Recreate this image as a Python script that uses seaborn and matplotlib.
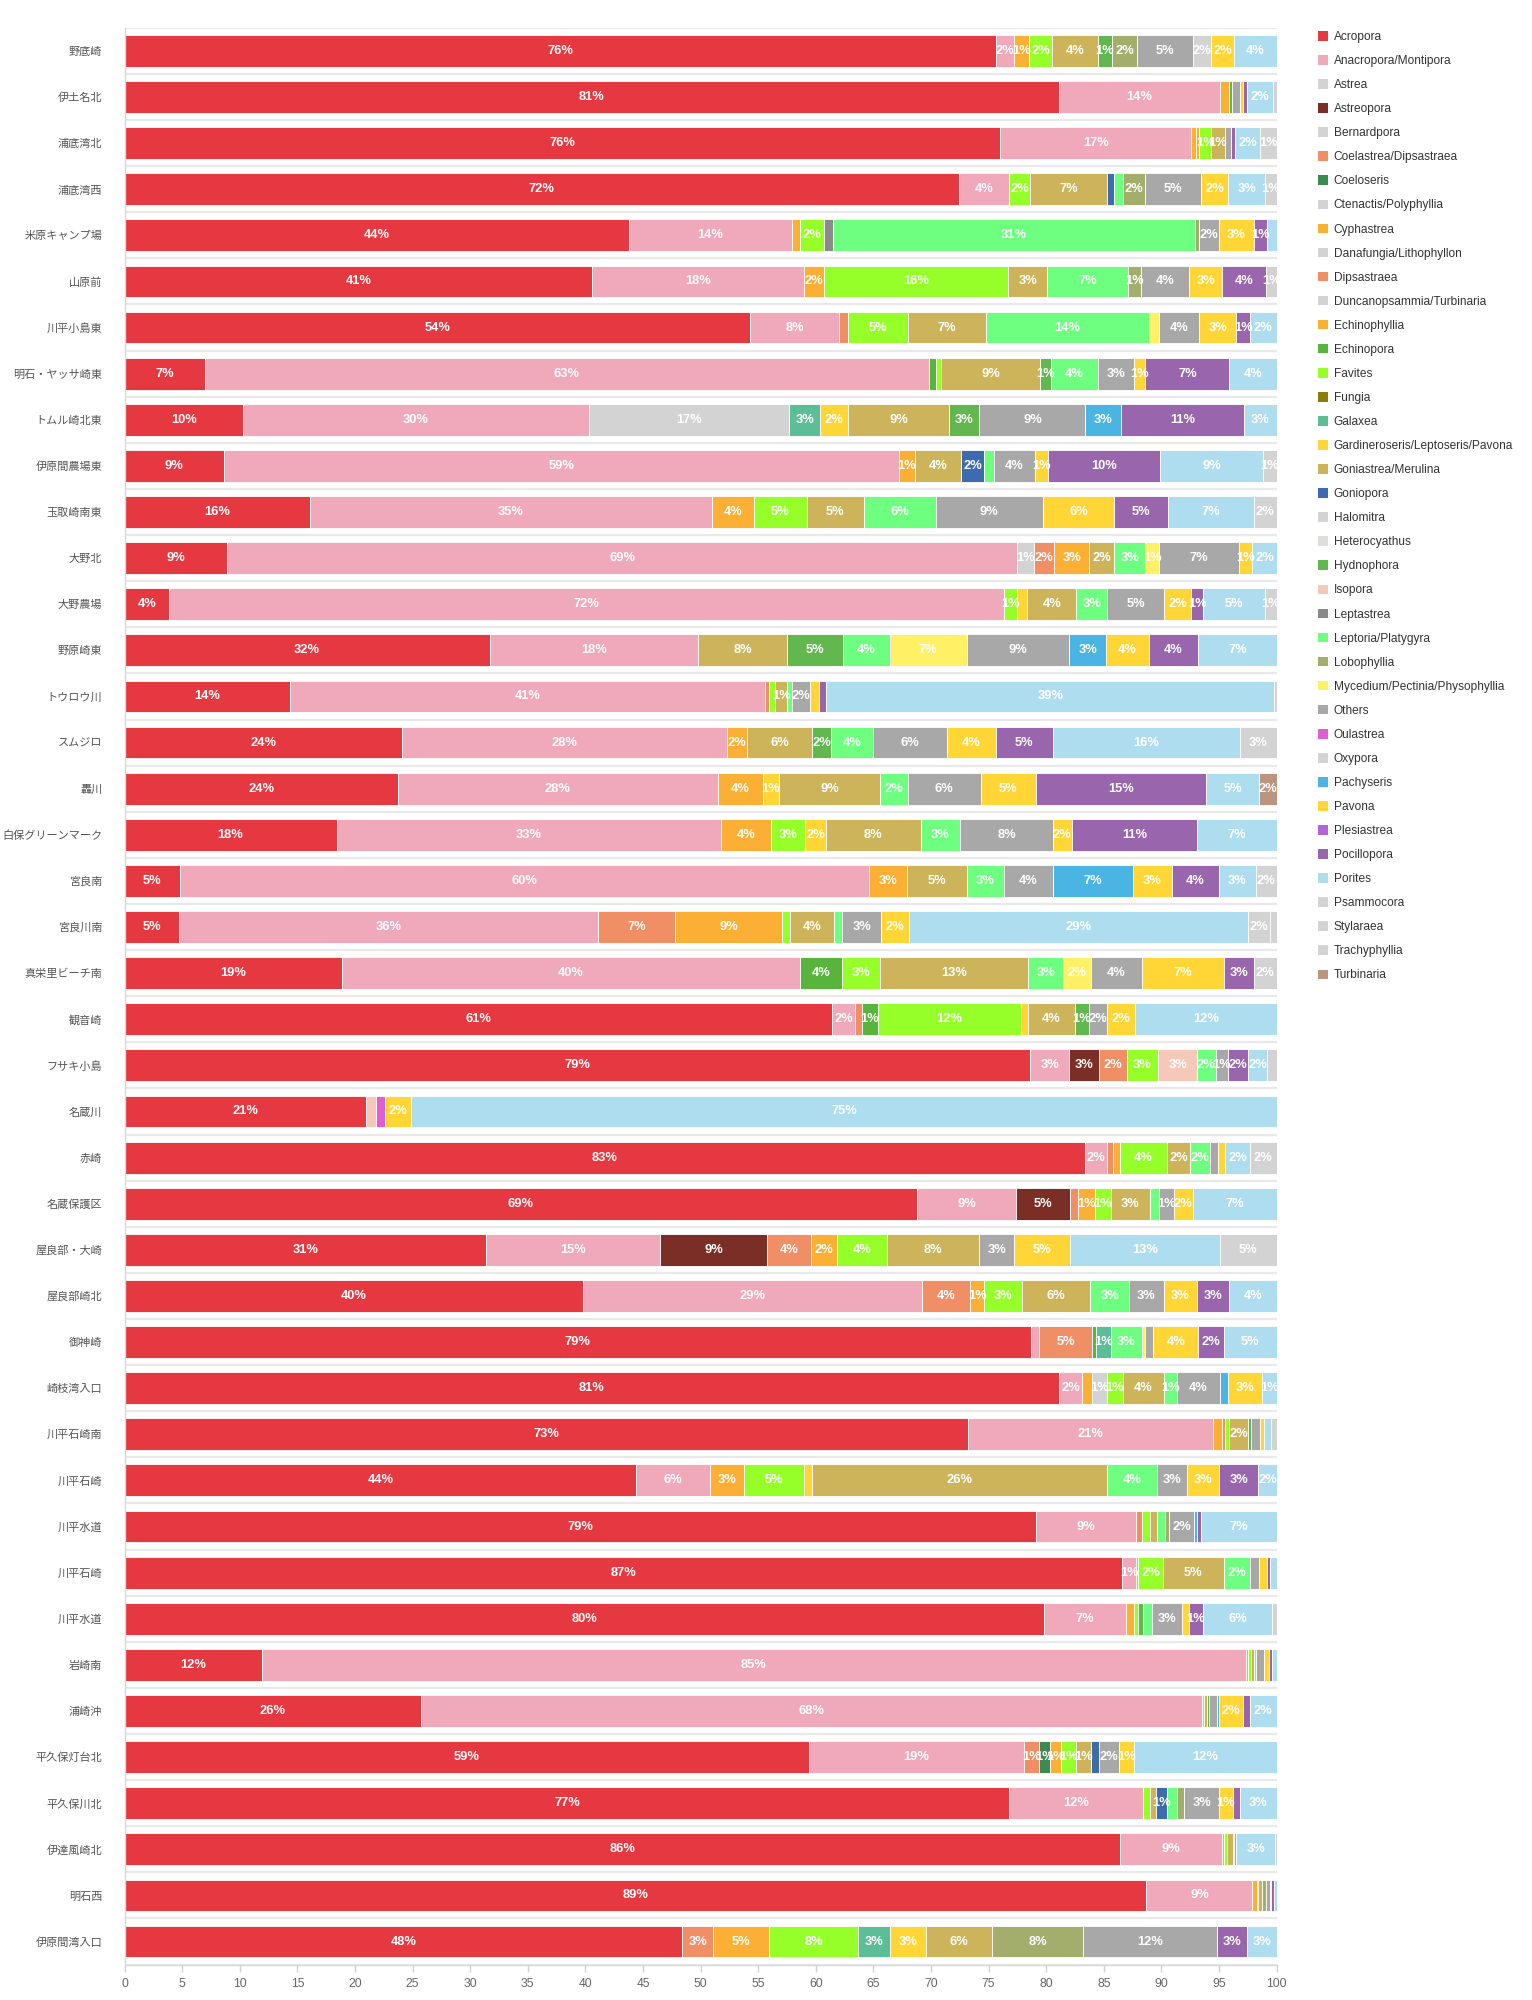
import numpy as np
import pandas as pd
import matplotlib.pyplot as plt
from matplotlib.patches import Patch
import seaborn as sns

# survey sites, top to bottom
sites = [
    "野底崎", "伊土名北", "浦底湾北", "浦底湾西", "米原キャンプ場", "山原前", "川平小島東",
    "明石・ヤッサ崎東", "トムル崎北東", "伊原間農場東", "玉取崎南東", "大野北", "大野農場",
    "野原崎東", "トウロウ川", "スムジロ", "轟川", "白保グリーンマーク", "宮良南", "宮良川南",
    "真栄里ビーチ南", "観音崎", "フサキ小島", "名蔵川", "赤崎", "名蔵保護区", "屋良部・大崎",
    "屋良部崎北", "御神崎", "崎枝湾入口", "川平石崎南", "川平石崎", "川平水道", "川平石崎",
    "川平水道", "岩崎南", "浦崎沖", "平久保灯台北", "平久保川北", "伊達風崎北", "明石西",
    "伊原間湾入口",
]

categories = [
    "Acropora", "Anacropora/Montipora", "Astrea", "Astreopora", "Bernardpora",
    "Coelastrea/Dipsastraea", "Coeloseris", "Ctenactis/Polyphyllia", "Cyphastrea",
    "Danafungia/Lithophyllon", "Dipsastraea", "Duncanopsammia/Turbinaria", "Echinophyllia",
    "Echinopora", "Favites", "Fungia", "Galaxea", "Gardineroseris/Leptoseris/Pavona",
    "Goniastrea/Merulina", "Goniopora", "Halomitra", "Heterocyathus", "Hydnophora", "Isopora",
    "Leptastrea", "Leptoria/Platygyra", "Lobophyllia", "Mycedium/Pectinia/Physophyllia",
    "Others", "Oulastrea", "Oxypora", "Pachyseris", "Pavona", "Plesiastrea", "Pocillopora",
    "Porites", "Psammocora", "Stylaraea", "Trachyphyllia", "Turbinaria",
]

colors = [
    "#e63841", "#f0a8bb", "#d3d3d3", "#7b2e25", "#d3d3d3",
    "#f08e65", "#3e8a55", "#d3d3d3", "#fbb035",
    "#d3d3d3", "#f08e65", "#d3d3d3", "#fbb035",
    "#58b43d", "#96ff2a", "#8b7d07", "#5bbe96", "#ffd635",
    "#cdb45a", "#3e6baf", "#d3d3d3", "#dededa", "#62b74f", "#f6c8b9",
    "#8a8a8a", "#6eff80", "#a3ad6c", "#fff066",
    "#a8a8a8", "#e05fd0", "#d3d3d3", "#4ab4e2", "#ffd635", "#b463d9", "#9966ae",
    "#aeddf0", "#d3d3d3", "#d3d3d3", "#d3d3d3", "#bc957e",
]

# cover (%) per taxon, one value per site
acropora = [75.6, 81.1, 76.0, 72.4, 43.8, 40.6, 54.3, 7.0, 10.3, 8.6,
            16.1, 8.9, 3.9, 31.7, 14.4, 24.1, 23.7, 18.4, 4.8, 4.7,
            18.9, 61.4, 78.6, 21.0, 83.4, 68.8, 31.4, 39.8, 78.7, 81.1,
            73.2, 44.4, 79.1, 86.6, 79.8, 11.9, 25.7, 59.4, 76.8, 86.4,
            88.7, 48.4]
anacropora = [1.6, 14.0, 16.6, 4.4, 14.1, 18.4, 7.7, 62.8, 30.0, 58.6,
              34.9, 68.6, 72.4, 18.1, 41.2, 28.2, 27.8, 33.4, 59.8, 36.4,
              39.7, 2.0, 3.4, 0, 1.9, 8.6, 15.1, 29.4, 0.7, 2.0,
              21.3, 6.4, 8.7, 1.2, 7.1, 85.4, 67.8, 18.7, 11.6, 8.9,
              9.2, 0]
astrea = [0, 0, 0, 0, 0, 0, 0, 0, 17.4, 0,
          0, 1.4, 0, 0, 0, 0, 0, 0, 0, 0,
          0, 0, 0, 0, 0, 0, 0, 0, 0, 0,
          0, 0, 0, 0, 0, 0, 0, 0, 0, 0,
          0, 0]
astreopora = [0, 0, 0, 0, 0, 0, 0, 0, 0, 0,
              0, 0, 0, 0, 0, 0, 0, 0, 0, 0,
              0, 0, 2.6, 0, 0, 4.7, 9.3, 0, 0, 0,
              0, 0, 0, 0, 0, 0, 0, 0, 0, 0,
              0, 0]
coelastrea = [0, 0, 0, 0, 0, 0, 0.8, 0, 0, 0,
              0, 1.8, 0, 0, 0.3, 0, 0, 0, 0, 6.7,
              0, 0.6, 2.4, 0, 0.5, 0.7, 3.8, 4.2, 4.6, 0,
              0, 0, 0.5, 0, 0, 0, 0, 1.3, 0, 0,
              0, 2.7]
coeloseris = [0, 0, 0, 0, 0, 0, 0, 0, 0, 0,
              0, 0, 0, 0, 0, 0, 0, 0, 0, 0,
              0, 0, 0, 0, 0, 0, 0, 0, 0, 0,
              0, 0, 0, 0, 0, 0, 0, 0.9, 0, 0,
              0, 0]
cyphastrea = [1.3, 0.8, 0.4, 0, 0.7, 1.7, 0, 0, 0, 1.4,
              3.6, 3.0, 0, 0, 0, 1.7, 3.9, 4.3, 3.3, 9.3,
              0, 0, 0, 0, 0.6, 1.4, 2.2, 1.2, 0, 0.85,
              0.8, 3.0, 0, 0.2, 0.7, 0.2, 0, 1.0, 0, 0.15,
              0.4, 4.8]
danafungia = [0, 0, 0, 0, 0, 0, 0, 0, 0, 0,
              0, 0, 0, 0, 0, 0, 0, 0, 0, 0,
              0, 0, 0, 0, 0, 0, 0, 0, 0, 1.3,
              0, 0, 0, 0, 0, 0, 0, 0, 0, 0,
              0, 0]
dipsastraea = [0, 0, 0, 0, 0, 0, 0, 0, 0, 0,
               0, 0, 0, 0, 0, 0, 0, 0, 0, 0,
               0, 0, 0, 0, 0, 0, 0, 0, 0, 0,
               0.2, 0, 0, 0, 0, 0, 0, 0, 0, 0,
               0, 0]
echinophyllia = [0, 0, 0.3, 0, 0, 0, 0, 0, 0, 0,
                 0, 0, 0, 0, 0, 0, 0, 0, 0, 0,
                 0, 0, 0, 0, 0, 0, 0, 0, 0, 0,
                 0, 0, 0, 0, 0, 0, 0, 0, 0, 0,
                 0, 0]
echinopora = [0, 0, 0, 0, 0, 0, 0, 0.6, 0, 0,
              0, 0, 0, 0, 0, 0, 0, 0, 0, 0,
              3.7, 1.4, 0, 0, 0, 0, 0, 0, 0.3, 0,
              0, 0, 0, 0, 0, 0, 0, 0, 0, 0,
              0, 0]
favites = [2.0, 0, 1.0, 1.8, 2.1, 16.0, 5.2, 0.5, 0, 0,
           4.6, 0, 1.2, 0, 0.6, 0, 0, 3.0, 0, 0.7,
           3.3, 12.4, 2.7, 0, 4.1, 1.4, 4.4, 3.3, 0, 1.4,
           0.4, 5.2, 0.7, 2.1, 0.4, 0.3, 0.2, 1.3, 0.6, 0.2,
           0.1, 7.8]
galaxea = [0, 0, 0, 0, 0, 0, 0, 0, 2.7, 0,
           0, 0, 0, 0, 0, 0, 0, 0, 0, 0,
           0, 0, 0, 0, 0, 0, 0, 0, 1.3, 0,
           0, 0, 0, 0, 0, 0, 0, 0, 0, 0,
           0, 2.7]
gardineroseris = [0, 0, 0, 0, 0, 0, 0, 0, 2.4, 0,
                  0, 0, 0.85, 0, 0, 0, 1.4, 1.8, 0, 0,
                  0, 0.6, 0, 0, 0, 0, 0, 0, 0, 0,
                  0, 0.7, 0, 0, 0, 0, 0, 0, 0, 0,
                  0, 3.2]
goniastrea = [4.0, 0, 1.2, 6.7, 0, 3.4, 6.8, 8.6, 8.8, 4.0,
              5.0, 2.2, 4.25, 7.7, 1.0, 5.7, 8.8, 8.2, 5.2, 3.8,
              12.8, 4.1, 0, 0, 2.0, 3.4, 8.0, 5.9, 0, 3.6,
              1.6, 25.6, 0.6, 5.3, 0, 0.2, 0.25, 1.3, 0.5, 0.55,
              0.3, 5.7]
goniopora = [0, 0, 0, 0.6, 0, 0, 0, 0, 0, 2.0,
             0, 0, 0, 0, 0, 0, 0, 0, 0, 0,
             0, 0, 0, 0, 0, 0, 0, 0, 0, 0,
             0, 0, 0, 0, 0, 0, 0, 0.7, 1.0, 0,
             0, 0]
hydnophora = [1.2, 0.2, 0, 0, 0, 0, 0, 0.9, 2.6, 0,
              0, 0, 0, 4.9, 0, 1.6, 0, 0, 0, 0,
              0, 1.2, 0, 0, 0, 0, 0, 0, 0, 0,
              0.3, 0, 0, 0, 0.4, 0, 0.15, 0, 0, 0,
              0, 0]
isopora = [0, 0, 0, 0, 0, 0, 0, 0, 0, 0,
           0, 0, 0, 0, 0, 0, 0, 0, 0, 0,
           0, 0, 3.4, 0.85, 0, 0, 0, 0, 0, 0,
           0, 0, 0, 0, 0, 0, 0, 0, 0, 0,
           0, 0]
leptastrea = [0, 0, 0, 0, 0.8, 0, 0, 0, 0, 0,
              0, 0, 0, 0, 0, 0, 0, 0, 0, 0,
              0, 0, 0, 0, 0, 0, 0, 0, 0, 0,
              0, 0, 0, 0, 0, 0, 0, 0, 0, 0,
              0, 0]
leptoria = [0, 0, 0, 0.8, 31.4, 7.0, 14.1, 4.1, 0, 0.85,
            6.2, 2.7, 2.7, 4.0, 0.4, 3.7, 2.4, 3.4, 3.2, 0.7,
            3.1, 0, 1.6, 0, 1.7, 0.8, 0, 3.4, 2.7, 1.1,
            0, 4.3, 0.7, 2.3, 0.8, 0.2, 0, 0, 0.85, 0.1,
            0, 0]
lobophyllia = [2.2, 0, 0, 1.9, 0.4, 1.1, 0, 0, 0, 0,
               0, 0, 0, 0, 0, 0, 0, 0, 0, 0,
               0, 0, 0, 0, 0, 0, 0, 0, 0, 0,
               0, 0, 0.4, 0, 0, 0, 0, 0, 0.65, 0,
               0.4, 7.9]
mycedium = [0, 0, 0, 0, 0, 0, 0.85, 0, 0, 0,
            0, 1.2, 0, 6.7, 0, 0, 0, 0, 0, 0,
            2.4, 0, 0, 0, 0, 0, 0, 0, 0.3, 0,
            0, 0, 0, 0, 0, 0, 0, 0, 0, 0,
            0, 0]
others = [4.8, 0.7, 0.5, 4.8, 1.7, 4.2, 3.55, 3.1, 9.2, 3.6,
          9.3, 6.9, 4.9, 8.9, 1.6, 6.4, 6.3, 8.1, 4.3, 3.4,
          4.4, 1.6, 1.1, 0, 0.7, 1.3, 3.0, 3.0, 0.7, 3.7,
          0.8, 2.6, 2.1, 0.8, 2.6, 0.7, 0.7, 1.7, 3.0, 0.15,
          0.3, 11.6]
oulastrea = [0, 0, 0, 0, 0, 0, 0, 0, 0, 0,
             0, 0, 0, 0, 0, 0, 0, 0, 0, 0,
             0, 0, 0, 0.75, 0, 0, 0, 0, 0, 0,
             0, 0, 0, 0, 0, 0, 0, 0, 0, 0,
             0, 0]
oxypora = [1.6, 0, 0, 0, 0, 0, 0, 0, 0, 0,
           0, 0, 0, 0, 0, 0, 0, 0, 0, 0,
           0, 0, 0, 0, 0, 0, 0, 0, 0, 0,
           0, 0, 0, 0, 0, 0, 0, 0, 0, 0,
           0, 0]
pachyseris = [0, 0, 0, 0, 0, 0, 0, 0, 3.1, 0,
              0, 0, 0, 3.2, 0, 0, 0, 0, 6.9, 0,
              0, 0, 0, 0, 0, 0, 0, 0, 0, 0.7,
              0, 0, 0.3, 0, 0, 0, 0.2, 0, 0, 0,
              0, 0]
pavona = [2.0, 0.3, 0, 2.4, 3.0, 2.9, 3.2, 1.0, 0, 1.1,
          6.2, 1.2, 2.4, 3.7, 0.8, 4.2, 4.8, 1.6, 3.4, 2.4,
          7.1, 2.4, 0, 2.3, 0.6, 1.6, 4.9, 2.9, 3.9, 3.0,
          0.3, 2.8, 0, 0.7, 0.6, 0.4, 2.1, 1.3, 1.2, 0,
          0.15, 0]
pocillopora = [0, 0.3, 0.4, 0, 1.2, 3.8, 1.2, 7.3, 10.7, 9.7,
               4.7, 0, 1.0, 4.3, 0.6, 5.0, 14.8, 10.9, 4.1, 0,
               2.6, 0, 1.7, 0, 0, 0, 0, 2.8, 2.2, 0,
               0, 3.4, 0.3, 0.2, 1.2, 0.3, 0.6, 0, 0.6, 0,
               0.2, 2.6]
porites = [3.7, 2.3, 2.2, 3.2, 0.8, 0, 2.3, 4.1, 2.8, 9.0,
           7.4, 2.1, 5.4, 6.8, 38.9, 16.2, 4.6, 6.9, 3.2, 29.4,
           0, 12.3, 1.7, 75.1, 2.2, 7.3, 13.0, 4.1, 4.6, 1.25,
           0.6, 1.6, 6.6, 0.6, 6.0, 0.4, 2.3, 12.4, 3.2, 3.45,
           0.25, 2.6]
psammocora = [0, 0.3, 1.4, 1.0, 0, 0.9, 0, 0, 0, 1.15,
              2.0, 0, 1.0, 0, 0.2, 3.2, 0, 0, 1.8, 1.9,
              2.0, 0, 0.8, 0, 2.3, 0, 4.9, 0, 0, 0,
              0.5, 0, 0, 0, 0.4, 0, 0, 0, 0, 0.1,
              0, 0]
stylaraea = [0, 0, 0, 0, 0, 0, 0, 0, 0, 0,
             0, 0, 0, 0, 0, 0, 0, 0, 0, 0.6,
             0, 0, 0, 0, 0, 0, 0, 0, 0, 0,
             0, 0, 0, 0, 0, 0, 0, 0, 0, 0,
             0, 0]
turbinaria = [0, 0, 0, 0, 0, 0, 0, 0, 0, 0,
              0, 0, 0, 0, 0, 0, 1.5, 0, 0, 0,
              0, 0, 0, 0, 0, 0, 0, 0, 0, 0,
              0, 0, 0, 0, 0, 0, 0, 0, 0, 0,
              0, 0]

series = {
    "Acropora": acropora, "Anacropora/Montipora": anacropora, "Astrea": astrea,
    "Astreopora": astreopora, "Coelastrea/Dipsastraea": coelastrea, "Coeloseris": coeloseris,
    "Cyphastrea": cyphastrea, "Danafungia/Lithophyllon": danafungia, "Dipsastraea": dipsastraea,
    "Echinophyllia": echinophyllia, "Echinopora": echinopora, "Favites": favites,
    "Galaxea": galaxea, "Gardineroseris/Leptoseris/Pavona": gardineroseris,
    "Goniastrea/Merulina": goniastrea, "Goniopora": goniopora, "Hydnophora": hydnophora,
    "Isopora": isopora, "Leptastrea": leptastrea, "Leptoria/Platygyra": leptoria,
    "Lobophyllia": lobophyllia, "Mycedium/Pectinia/Physophyllia": mycedium, "Others": others,
    "Oulastrea": oulastrea, "Oxypora": oxypora, "Pachyseris": pachyseris, "Pavona": pavona,
    "Pocillopora": pocillopora, "Porites": porites, "Psammocora": psammocora,
    "Stylaraea": stylaraea, "Turbinaria": turbinaria,
}
# taxa listed in the legend but with no cover at any site get zeros
df = pd.DataFrame({c: series.get(c, [0.0] * len(sites)) for c in categories})

sns.set_theme(style="white")
plt.rcParams["font.family"] = ["Liberation Sans", "Noto Sans CJK JP", "DejaVu Sans"]

fig = plt.figure(figsize=(15.32, 20), dpi=100)
ax = fig.add_axes([0.0813, 0.0177, 0.7520, 0.9684])

ypos = np.arange(len(sites))
left = np.zeros(len(sites))
for cat, col in zip(categories, colors):
    vals = df[cat].to_numpy(dtype=float)
    ax.barh(ypos, vals, left=left, height=0.69, color=col,
            edgecolor="white", linewidth=0.6, zorder=2)
    for y, v, l in zip(ypos, vals, left):
        if v >= 0.895:
            ax.text(l + v / 2, y, f"{v:.0f}%", ha="center", va="center",
                    color="white", fontsize=9.3, fontweight="bold", zorder=3)
    left += vals

# light separators between rows
for b in np.arange(-0.5, len(sites) + 0.5):
    ax.axhline(b, color="#e9e9e9", lw=1.6, zorder=0)

ax.set_xlim(0, 100)
ax.set_ylim(len(sites) - 0.5, -0.5)
ax.set_xticks(range(0, 101, 5))
ax.set_yticks(ypos)
ax.set_yticklabels(sites)
ax.tick_params(axis="y", length=0, pad=16, labelsize=8, labelcolor="#555555")
ax.tick_params(axis="x", bottom=True, length=5, width=1, color="#d0d0d0",
               labelsize=8.7, labelcolor="#666666", pad=5)
for side in ["top", "right"]:
    ax.spines[side].set_visible(False)
for side in ["left", "bottom"]:
    ax.spines[side].set_color("#d8d8d8")
    ax.spines[side].set_linewidth(1)

handles = [Patch(facecolor=c, edgecolor="none", label=n) for n, c in zip(categories, colors)]
fig.legend(handles=handles, loc="upper left", bbox_to_anchor=(0.8603, 0.9845),
           frameon=False, fontsize=8.6, labelcolor="#333333",
           handlelength=0.86, handleheight=0.86, handletextpad=0.45,
           labelspacing=1.01, borderaxespad=0, borderpad=0)

fig.savefig("out.png", dpi=100)
